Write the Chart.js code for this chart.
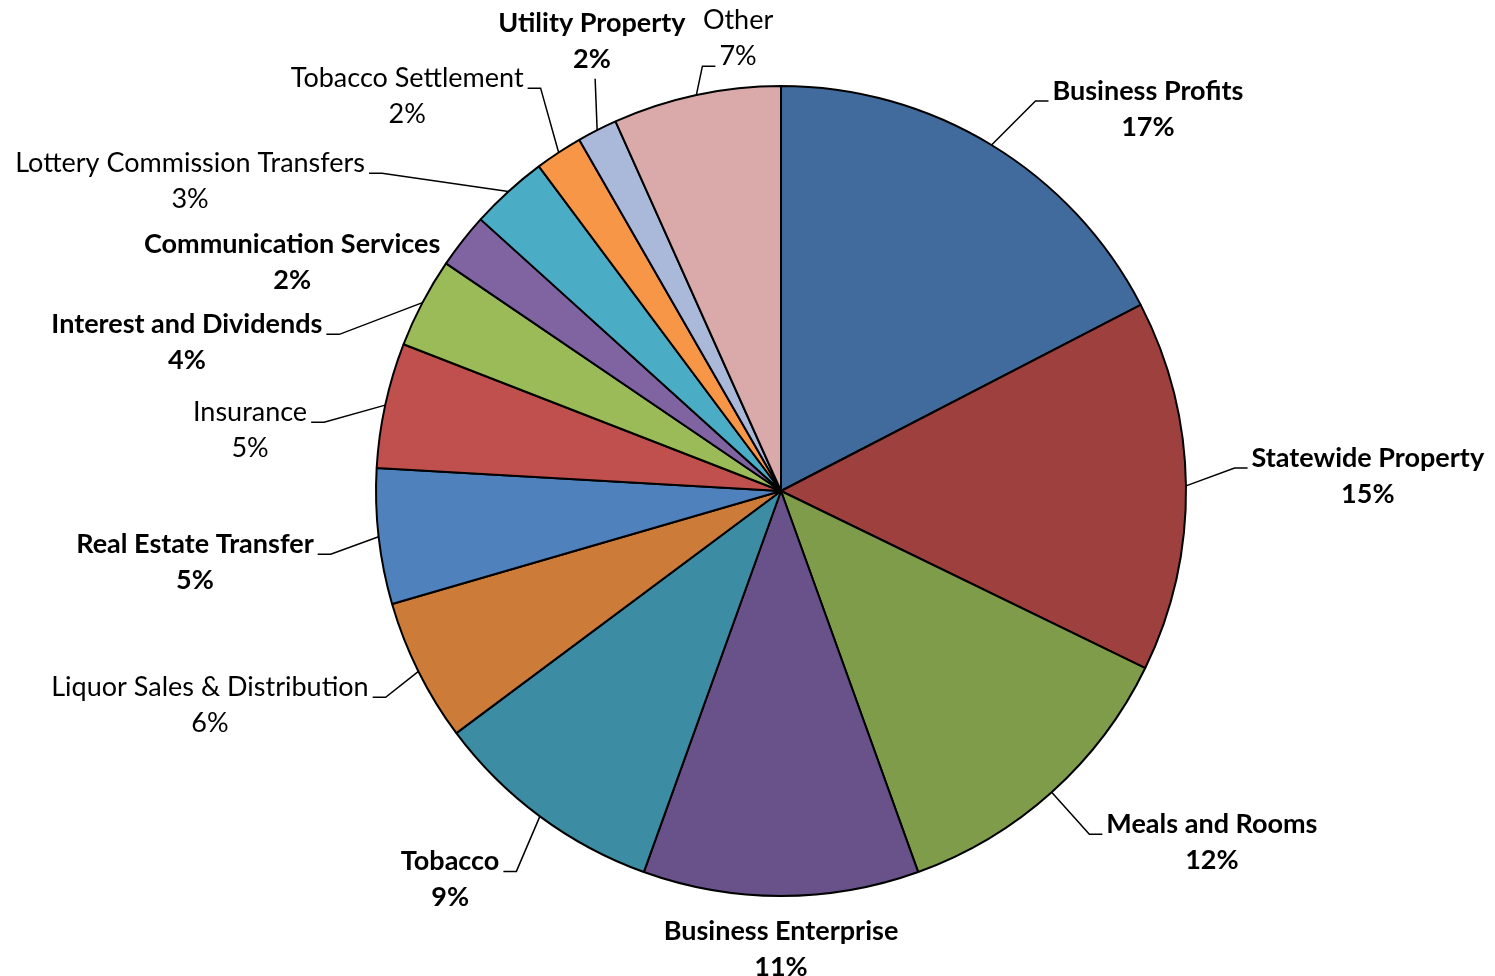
<!DOCTYPE html>
<html>
<head>
<meta charset="utf-8">
<script src="https://cdn.jsdelivr.net/npm/chart.js@4.4.1/dist/chart.umd.min.js"></script>
<style>
  body { margin: 0; background: #fff; }
  #wrap { width: 1495px; height: 976px; }
</style>
</head>
<body>
<div id="wrap"><canvas id="pie"></canvas></div>
<script>
// revenue sources, clockwise from 12 o'clock
const categories = [
  "Business Profits", "Statewide Property", "Meals and Rooms", "Business Enterprise",
  "Tobacco", "Liquor Sales & Distribution", "Real Estate Transfer", "Insurance",
  "Interest and Dividends", "Communication Services", "Lottery Commission Transfers",
  "Tobacco Settlement", "Utility Property", "Other"
];
const shares = [17.4, 14.8, 12.3, 11.0, 9.3, 5.7, 5.4, 5.0, 3.6, 2.2, 3.1, 1.9, 1.6, 6.7];

const colors = [
  "#416B9C", "#9D403E", "#7F9C4A", "#69518A", "#3C8CA3", "#CC7B38", "#4F81BD",
  "#C0504D", "#9BBB59", "#8064A2", "#4BACC6", "#F79646", "#AAB9D9", "#D9AAA9"
];
const boldLabel = [true, true, true, true, true, false, true, false, true, true, false, false, true, false];

// label block centres, in units of the pie radius from its centre
const labelSpots = [
  [0.906, -0.946], [1.449, -0.040], [1.064, 0.864], [0.000, 1.128],
  [-0.817, 0.956], [-1.410, 0.526], [-1.447, 0.173], [-1.311, -0.153],
  [-1.467, -0.370], [-1.207, -0.568], [-1.459, -0.768], [-0.923, -0.978],
  [-0.467, -1.114], [-0.106, -1.121]
];
// how the leader line meets the label
const leaderType = ["left", "left", "left", "none", "right", "right", "right", "right",
  "right", "none", "right", "right", "below", "left2"];

const FONT = "Lato, 'Open Sans', sans-serif";
const FONT_SIZE = 27;
const LINE_GAP = 36;

const sliceLabels = {
  id: "sliceLabels",
  afterDatasetsDraw(chart) {
    const ctx = chart.ctx;
    const arcs = chart.getDatasetMeta(0).data;
    const total = shares.reduce((a, b) => a + b, 0);
    ctx.save();
    arcs.forEach((arc, i) => {
      const p = arc.getProps(["x", "y", "startAngle", "endAngle", "outerRadius"], true);
      const mid = (p.startAngle + p.endAngle) / 2;
      const ex = p.x + Math.cos(mid) * p.outerRadius;
      const ey = p.y + Math.sin(mid) * p.outerRadius;
      const cx = p.x + labelSpots[i][0] * p.outerRadius;
      const cy = p.y + labelSpots[i][1] * p.outerRadius + 1.5;
      const lines = [categories[i], Math.round(shares[i] / total * 100) + "%"];
      ctx.font = (boldLabel[i] ? "bold " : "") + FONT_SIZE + "px " + FONT;
      ctx.fillStyle = "#000";
      ctx.textAlign = "center";
      ctx.textBaseline = "middle";
      const y1 = cy - LINE_GAP / 2, y2 = cy + LINE_GAP / 2;
      ctx.fillText(lines[0], cx, y1);
      ctx.fillText(lines[1], cx, y2);

      const w1 = ctx.measureText(lines[0]).width;
      const w2 = ctx.measureText(lines[1]).width;
      const base = FONT_SIZE * 0.36;
      let pts = null;
      if (leaderType[i] === "left") {
        const tx = cx - w1 / 2 - 4, ty = y1 + base;
        pts = [[ex, ey], [tx - 13, ty], [tx, ty]];
      } else if (leaderType[i] === "right") {
        const tx = cx + w1 / 2 + 4, ty = y1 + base;
        pts = [[ex, ey], [tx + 13, ty], [tx, ty]];
      } else if (leaderType[i] === "left2") {
        const tx = cx - w2 / 2 - 4, ty = y2 + base;
        pts = [[ex, ey], [tx - 13, ty], [tx, ty]];
      } else if (leaderType[i] === "below") {
        pts = [[ex, ey], [ex - 2, y2 + FONT_SIZE * 0.72]];
      }
      if (pts) {
        ctx.beginPath();
        ctx.moveTo(pts[0][0], pts[0][1]);
        for (let k = 1; k < pts.length; k++) ctx.lineTo(pts[k][0], pts[k][1]);
        ctx.strokeStyle = "#000";
        ctx.lineWidth = 1.5;
        ctx.stroke();
      }
    });
    ctx.restore();
  }
};

new Chart(document.getElementById("pie"), {
  type: "pie",
  data: {
    labels: categories,
    datasets: [{
      data: shares,
      backgroundColor: colors,
      borderColor: "#000",
      borderWidth: 2
    }]
  },
  options: {
    responsive: true,
    maintainAspectRatio: false,
    animation: false,
    layout: { padding: { left: 375, right: 308, top: 85, bottom: 79 } },
    plugins: {
      legend: { display: false },
      tooltip: { enabled: false }
    }
  },
  plugins: [sliceLabels]
});
</script>
</body>
</html>
